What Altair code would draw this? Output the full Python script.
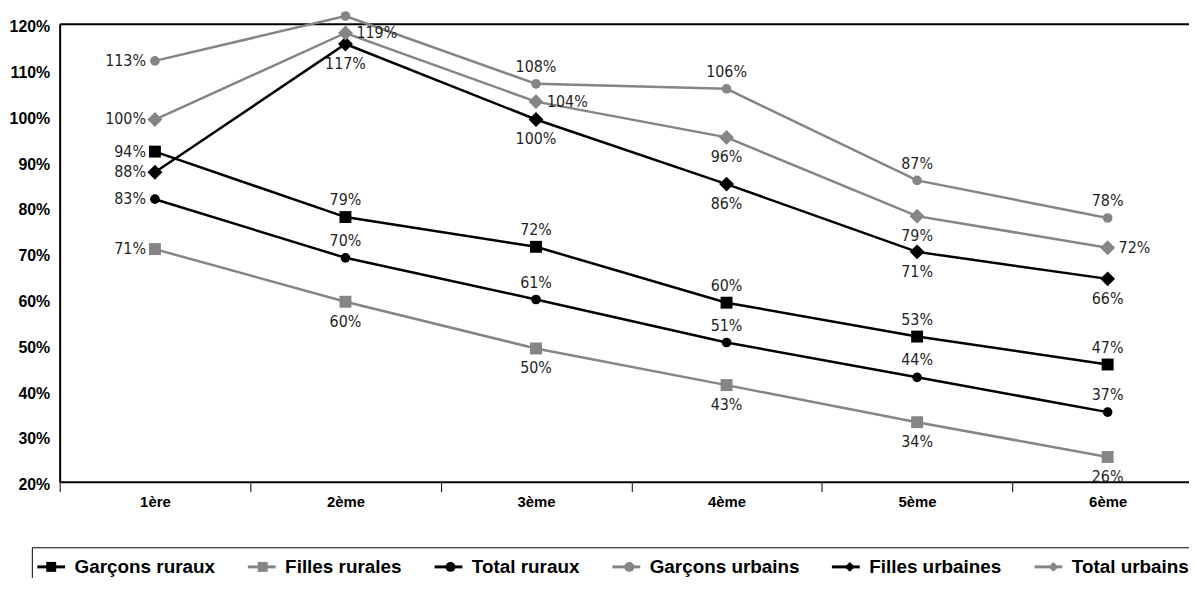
import altair as alt
import pandas as pd

# ---------------- data ----------------
classes = ["1ère", "2ème", "3ème", "4ème", "5ème", "6ème"]
series = ["Garçons ruraux", "Filles rurales", "Total ruraux",
          "Garçons urbains", "Filles urbaines", "Total urbains"]

# plotted positions (in %)
garcons_ruraux = [92.1, 77.8, 71.3, 59.1, 51.7, 45.6]
filles_rurales = [70.8, 59.3, 49.1, 41.1, 33.0, 25.4]
total_ruraux = [81.7, 68.9, 59.8, 50.4, 42.8, 35.2]
garcons_urbains = [111.9, 121.7, 106.9, 105.8, 85.8, 77.6]
filles_urbaines = [87.6, 115.6, 99.1, 85.0, 70.2, 64.3]
total_urbains = [99.1, 118.0, 103.0, 95.2, 78.0, 71.1]

# printed data labels (in %)
lab_garcons_ruraux = [94, 79, 72, 60, 53, 47]
lab_filles_rurales = [71, 60, 50, 43, 34, 26]
lab_total_ruraux = [83, 70, 61, 51, 44, 37]
lab_garcons_urbains = [113, None, 108, 106, 87, 78]
lab_filles_urbaines = [88, 117, 100, 86, 71, 66]
lab_total_urbains = [100, 119, 104, 96, 79, 72]

# label placement relative to the point
pos_garcons_ruraux = ["left", "above", "above", "above", "above", "above"]
pos_filles_rurales = ["left", "below", "below", "below", "below", "below"]
pos_total_ruraux = ["left", "above", "above", "above", "above", "above"]
pos_garcons_urbains = ["left", "none", "above", "above", "above", "above"]
pos_filles_urbaines = ["left", "below", "below", "below", "below", "below"]
pos_total_urbains = ["left", "right", "right", "below", "below", "right"]

values = [garcons_ruraux, filles_rurales, total_ruraux,
          garcons_urbains, filles_urbaines, total_urbains]
labels = [lab_garcons_ruraux, lab_filles_rurales, lab_total_ruraux,
          lab_garcons_urbains, lab_filles_urbaines, lab_total_urbains]
places = [pos_garcons_ruraux, pos_filles_rurales, pos_total_ruraux,
          pos_garcons_urbains, pos_filles_urbaines, pos_total_urbains]

rows = []
for s, vals, labs, poss in zip(series, values, labels, places):
    for c, v, l, p in zip(classes, vals, labs, poss):
        rows.append({"classe": c, "serie": s, "valeur": v,
                     "etiquette": "" if l is None else f"{l}%", "pos": p})
df = pd.DataFrame(rows)

# ---------------- styles ----------------
BLACK = "#000000"
GRAY = "#858585"
colors = [BLACK, GRAY, BLACK, GRAY, BLACK, GRAY]
marker_shapes = ["square", "square", "circle", "circle", "diamond", "diamond"]
BOLD = "Liberation Sans, Arial, sans-serif"
NARROW = "DejaVu Sans Condensed, Liberation Sans, sans-serif"

x_scale = alt.Scale(type="band", domain=classes, paddingInner=0, paddingOuter=0)
y_scale = alt.Scale(domain=[20, 120], nice=False, zero=False)

bottom_axis = alt.Axis(orient="bottom", title=None, grid=False,
                       domainColor=BLACK, domainWidth=2,
                       ticks=True, tickBand="extent", tickColor=BLACK,
                       tickWidth=1, tickSize=10,
                       labelFont=BOLD, labelFontSize=15, labelFontWeight="bold",
                       labelColor=BLACK, labelPadding=3, labelAngle=0)
top_axis = alt.Axis(orient="top", title=None, grid=False, domainColor=BLACK,
                    domainWidth=2, ticks=False, labels=False)
y_axis = alt.Axis(orient="left", title=None, grid=False,
                  values=[20, 30, 40, 50, 60, 70, 80, 90, 100, 110, 120],
                  labelExpr="datum.value + '%'",
                  domainColor=BLACK, domainWidth=2, ticks=False,
                  labelPadding=10, labelFont=BOLD, labelFontSize=16,
                  labelFontWeight="bold", labelColor=BLACK,
                  labelBaseline="middle", labelOffset=3)

X = alt.X("classe:N", scale=x_scale, axis=bottom_axis)
Y = alt.Y("valeur:Q", scale=y_scale, axis=y_axis)
C = alt.Color("serie:N", scale=alt.Scale(domain=series, range=colors), legend=None)

base = alt.Chart(df)

lines = base.mark_line(strokeWidth=2.5).encode(x=X, y=Y, color=C)

point_layers = []
for shape, size, names in [("square", 144, series[0:2]),
                           ("circle", 95, series[2:4]),
                           ("diamond", 225, series[4:6])]:
    point_layers.append(
        base.transform_filter(alt.FieldOneOfPredicate(field="serie", oneOf=names))
        .mark_point(shape=shape, size=size, filled=True, opacity=1, strokeWidth=0)
        .encode(x=X, y=Y, color=C)
    )

text_layers = []
for pos, align, dx, dy in [("left", "right", -9, 0),
                           ("above", "center", 0, -17),
                           ("below", "center", 0, 20),
                           ("right", "left", 11, 0)]:
    text_layers.append(
        base.transform_filter(alt.datum.pos == pos)
        .mark_text(align=align, baseline="middle", dx=dx, dy=dy,
                   font=NARROW, fontSize=16, color="#1f1f1f")
        .encode(x=X, y=Y, text="etiquette:N")
    )

data_layer = alt.layer(lines, *point_layers, *text_layers)

# ---------------- legend (two superimposed legends: lines + markers) ----------------
LEG_X, LEG_Y = -28, 527
leg_lines = alt.Legend(orient="none", legendX=LEG_X, legendY=LEG_Y,
                       direction="horizontal", title=None,
                       symbolSize=784, symbolStrokeWidth=3,
                       labelFont=BOLD, labelFontSize=19, labelFontWeight="bold",
                       labelColor=BLACK, labelOffset=8, columnPadding=26,
                       padding=4, strokeColor=BLACK, fillColor="white",
                       symbolOpacity=1, zindex=0)
leg_marks = alt.Legend(orient="none", legendX=LEG_X, legendY=LEG_Y + 6,
                       direction="horizontal", title=None,
                       symbolSize=100, symbolOffset=6, symbolStrokeWidth=0,
                       labelFont=BOLD, labelFontSize=19, labelFontWeight="bold",
                       labelOffset=20, columnPadding=26, padding=4,
                       labelOpacity=0, symbolOpacity=1, zindex=1)

hidden = base.transform_calculate(hors="-1000")

legend_lines = hidden.mark_line(strokeWidth=3, clip=True).encode(
    x=alt.X("classe:N", scale=x_scale, axis=top_axis),
    y=alt.Y("hors:Q", scale=y_scale, axis=y_axis),
    color=alt.Color("serie:N", scale=alt.Scale(domain=series, range=colors),
                    legend=leg_lines),
)

legend_marks = hidden.mark_point(filled=True, opacity=1, clip=True).encode(
    x=alt.X("classe:N", scale=x_scale, axis=None),
    y=alt.Y("hors:Q", scale=y_scale, axis=y_axis),
    color=alt.Color("serie:N", scale=alt.Scale(domain=series, range=colors),
                    legend=leg_marks),
    shape=alt.Shape("serie:N", scale=alt.Scale(domain=series, range=marker_shapes),
                    legend=leg_marks),
)

chart = alt.layer(data_layer, legend_lines, legend_marks).resolve_axis(
    x="independent"
).resolve_scale(color="independent", shape="independent").properties(
    width=1151, height=461,
    padding={"left": 52, "top": 14, "right": -14, "bottom": 95},
    autosize=alt.AutoSizeParams(type="none"),
    background="white",
).configure_view(strokeWidth=0)

chart.save("out.html", embed_options={"renderer": "svg", "actions": False})
